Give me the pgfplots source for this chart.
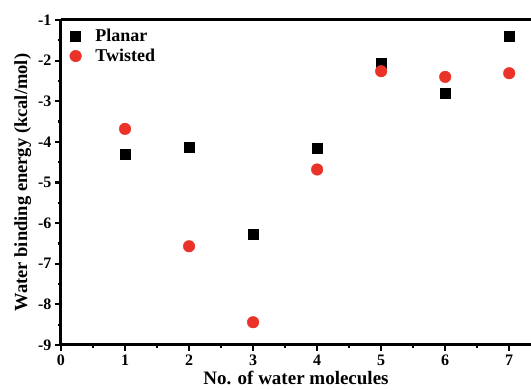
\documentclass[border=0pt]{standalone}
\usepackage{pgfplots}
\pgfplotsset{compat=1.18}
\usepackage{fontspec}
\setmainfont{Liberation Serif}
\definecolor{myred}{RGB}{234,50,40}
\begin{document}
\begin{tikzpicture}
\begin{axis}[
  at={(0pt,0pt)}, anchor=south west,
  scale only axis,
  width=470pt, height=325pt,
  xmin=0, xmax=7.34, ymin=-9, ymax=-1,
  axis x line*=box, axis y line*=left,
  axis line style={line width=3pt},
  tick align=outside, tick pos=left,
  xtick={0,1,...,7}, ytick={-9,-8,...,-1},
  minor x tick num=1, minor y tick num=1,
  major tick length=6pt, minor tick length=3pt,
  every tick/.style={black, line width=2.2pt},
  /pgf/number format/assume math mode=true,
  ticklabel style={font=\fontsize{16}{16}\selectfont\bfseries},
  xlabel={\fontsize{19}{19}\selectfont\bfseries No. of water molecules},
  ylabel={\fontsize{18.5}{18.5}\selectfont\bfseries Water binding energy (kcal/mol)},
  xlabel style={yshift=1pt},
  ylabel style={yshift=0pt},
  legend style={draw=none, fill=none, at={(0.012,0.985)}, anchor=north west,
    font=\fontsize{18}{18}\selectfont\bfseries, row sep=2pt, column sep=12pt},
  legend cell align=left,
  clip=false,
]
\addplot[only marks, mark=square*, mark size=5pt, black] coordinates {
(1,-4.30) (2,-4.13) (3,-6.27) (4,-4.15) (5,-2.07) (6,-2.81) (7,-1.41)};
\addlegendentry{Planar}
\addplot[only marks, mark=*, mark size=5.8pt, myred, mark options={draw=myred, fill=myred}] coordinates {
(1,-3.68) (2,-6.57) (3,-8.44) (4,-4.68) (5,-2.26) (6,-2.40) (7,-2.31)};
\addlegendentry{Twisted}
\end{axis}
\pgfresetboundingbox
\path[use as bounding box] (-61pt,-45pt) rectangle (470pt,345pt);
\end{tikzpicture}
\end{document}
